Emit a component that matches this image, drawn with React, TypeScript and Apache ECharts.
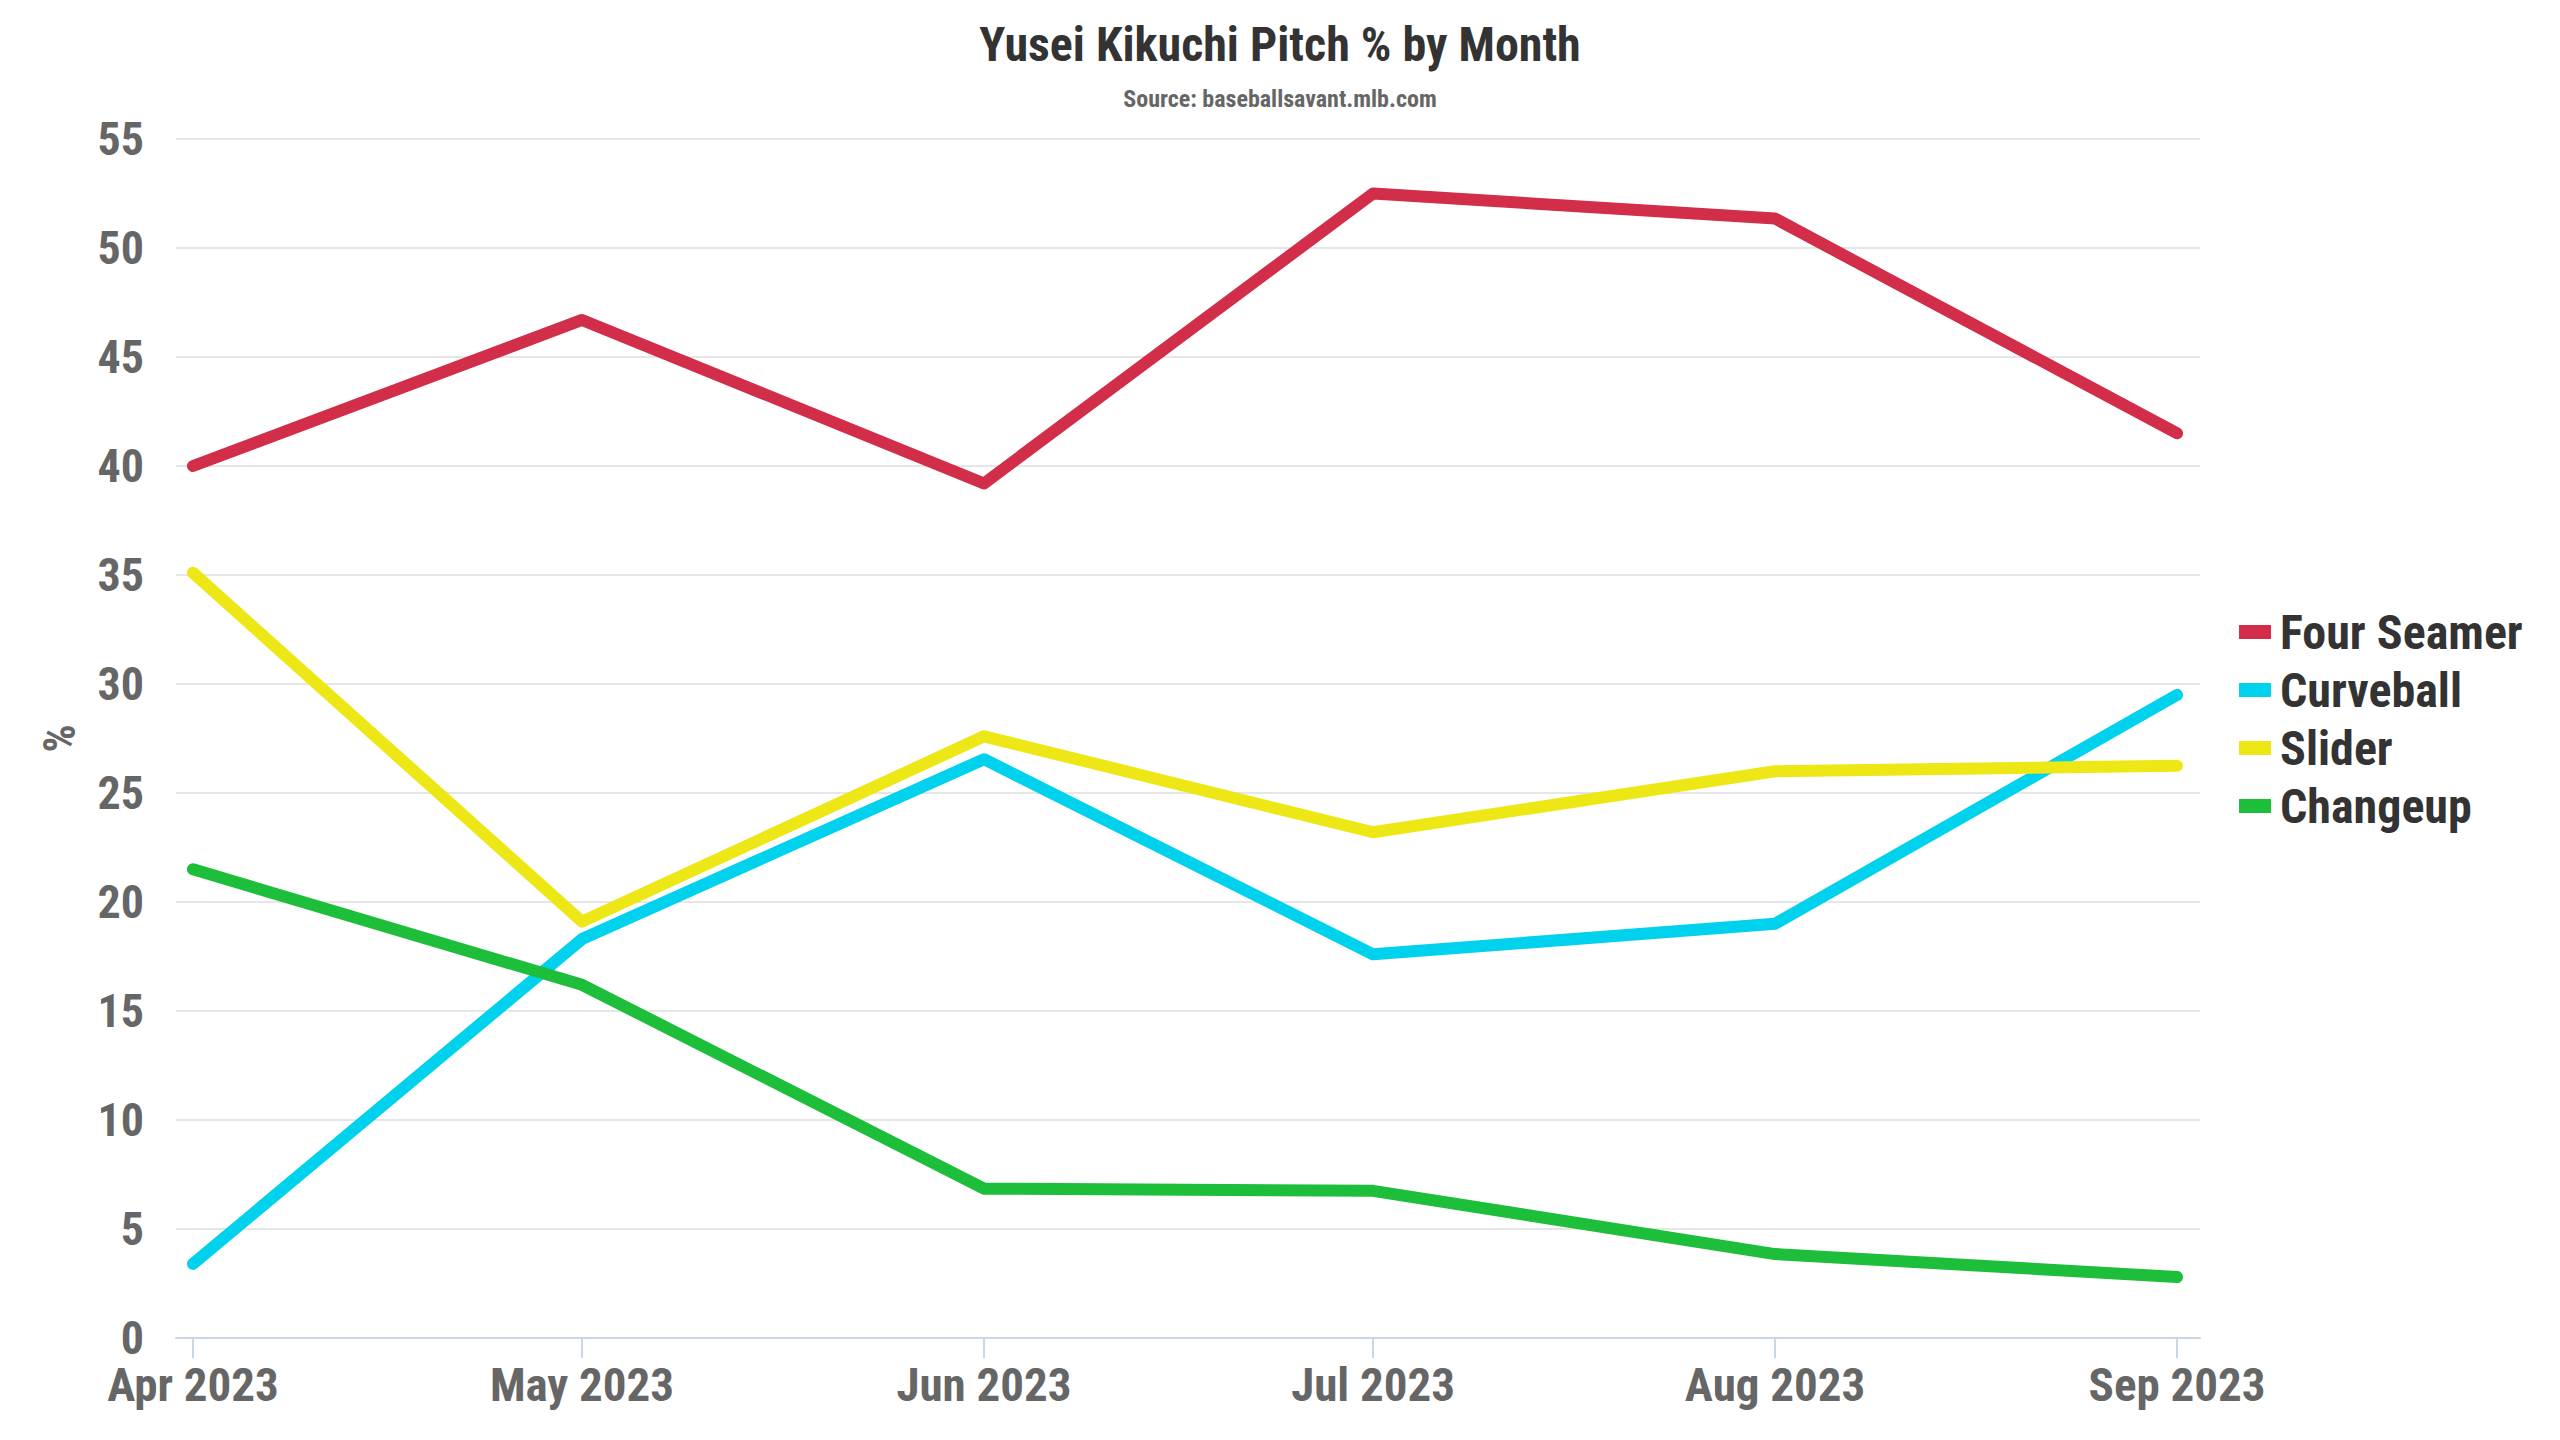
import React, { useEffect, useRef } from "react";
import * as echarts from "echarts";

const monthDates = ["2023-04-01", "2023-05-01", "2023-06-01", "2023-07-01", "2023-08-01", "2023-09-01"];
const monthLabels = ["Apr 2023", "May 2023", "Jun 2023", "Jul 2023", "Aug 2023", "Sep 2023"];

const fourSeamer = [40.0, 46.7, 39.2, 52.5, 51.35, 41.5];
const curveball = [3.4, 18.3, 26.55, 17.6, 19.0, 29.5];
const slider = [35.1, 19.1, 27.6, 23.2, 26.0, 26.25];
const changeup = [21.5, 16.2, 6.85, 6.75, 3.85, 2.8];

const seriesNames = ["Four Seamer", "Curveball", "Slider", "Changeup"];
const seriesColors = ["#d22d49", "#00d1ed", "#eee716", "#1dbe3a"];
const seriesValues = [fourSeamer, curveball, slider, changeup];

const yTicks = [0, 5, 10, 15, 20, 25, 30, 35, 40, 45, 50, 55];

const FONT = "'Roboto Condensed', 'Liberation Sans Narrow', 'Arial Narrow', 'DejaVu Sans Condensed', Roboto, sans-serif";

const DAY = 86400000;
const base = Date.parse(monthDates[0] + "T00:00:00Z");
const dayOffsets = monthDates.map((d) => Math.round((Date.parse(d + "T00:00:00Z") - base) / DAY));

export default function App() {
  const ref = useRef<HTMLDivElement>(null);

  useEffect(() => {
    if (!ref.current) return;
    const chart = echarts.init(ref.current, null, { renderer: "svg" });
    const last = dayOffsets[dayOffsets.length - 1];
    chart.setOption({
      animation: false,
      backgroundColor: "#ffffff",
      title: {
        text: "Yusei Kikuchi Pitch % by Month",
        subtext: "Source: baseballsavant.mlb.com",
        left: "center",
        top: 15,
        itemGap: 19,
        textStyle: { fontFamily: FONT, fontWeight: "bold", fontSize: 48, color: "#333333" },
        subtextStyle: { fontFamily: FONT, fontWeight: "bold", fontSize: 24, color: "#666666" },
      },
      legend: {
        orient: "vertical",
        left: 2234,
        top: 603,
        itemWidth: 32,
        itemHeight: 14,
        itemGap: 10,
        icon: "rect",
        data: seriesNames,
        textStyle: { fontFamily: FONT, fontWeight: "bold", fontSize: 48, color: "#333333", padding: [0, 0, 0, 4] },
      },
      grid: { left: 176, right: 360, top: 139, bottom: 102, containLabel: false },
      xAxis: {
        type: "value",
        min: -1.31,
        max: last + 1.77,
        axisLine: { show: true, lineStyle: { color: "#ccd6eb", width: 2 } },
        axisTick: { show: true, length: 20, lineStyle: { color: "#ccd6eb", width: 2 }, customValues: dayOffsets },
        axisLabel: {
          customValues: dayOffsets,
          formatter: (v: number) => {
            const i = dayOffsets.indexOf(Math.round(v));
            return i >= 0 ? monthLabels[i] : "";
          },
          fontFamily: FONT,
          fontWeight: "bold",
          fontSize: 47,
          lineHeight: 36,
          color: "#666666",
          margin: 28,
        },
        splitLine: { show: false },
      },
      yAxis: {
        type: "value",
        min: yTicks[0],
        max: yTicks[yTicks.length - 1],
        interval: 5,
        name: "%",
        nameLocation: "middle",
        nameRotate: 90,
        nameGap: 94,
        nameTextStyle: { fontFamily: FONT, fontWeight: "bold", fontSize: 44, color: "#666666" },
        axisLine: { show: false },
        axisTick: { show: false },
        axisLabel: { fontFamily: FONT, fontWeight: "bold", fontSize: 46, lineHeight: 34, color: "#666666", margin: 32 },
        splitLine: { show: true, lineStyle: { color: "#e6e6e6", width: 2 } },
      },
      series: seriesNames.map((name, si) => ({
        name,
        type: "line",
        data: seriesValues[si].map((v, i) => [dayOffsets[i], v]),
        symbol: "none",
        showSymbol: false,
        color: seriesColors[si],
        lineStyle: { width: 12, color: seriesColors[si], cap: "round", join: "round" },
        emphasis: { disabled: true },
      })),
    });
    return () => chart.dispose();
  }, []);

  return (
    <div
      ref={ref}
      style={{ position: "fixed", left: 0, top: 0, width: 2560, height: 1440, background: "#fff" }}
    />
  );
}
